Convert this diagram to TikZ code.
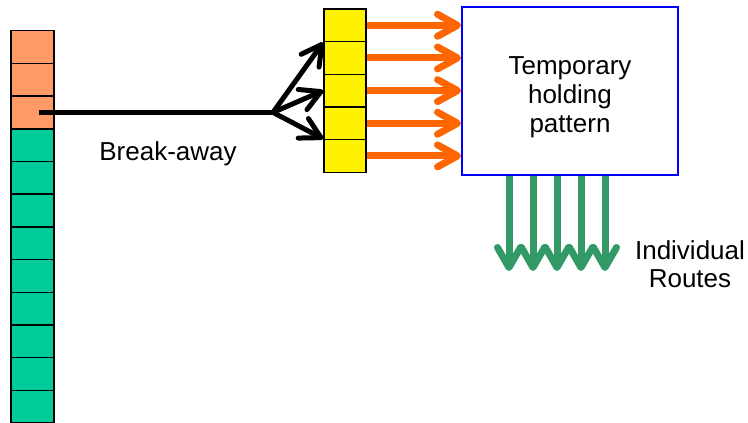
\documentclass[tikz,border=0pt]{standalone}
\usepackage{fontspec}
\setmainfont{Liberation Sans}
\usetikzlibrary{arrows.meta}
\definecolor{cellorange}{HTML}{FF9966}
\definecolor{cellgreen}{HTML}{00CC99}
\definecolor{arroworange}{HTML}{FF6600}
\definecolor{arrowgreen}{HTML}{339966}
\tikzset{
  cell/.style={draw, line width=1.5pt, minimum width=43pt, minimum height=32.7pt, inner sep=0pt},
  bigtext/.style={font=\fontsize{26}{29}\selectfont, align=center, inner sep=0pt},
  blackarrow/.style={line width=5pt, line cap=round, -{Straight Barb[length=20pt, width=22pt, round]}},
  orangearrow/.style={arroworange, line width=7pt, -{Straight Barb[length=20pt, width=22pt, round]}},
  greenarrow/.style={arrowgreen, line width=7pt, -{Straight Barb[length=20pt, width=23pt, round]}}
}
\begin{document}
\begin{tikzpicture}[x=1pt, y=-1pt]
  \useasboundingbox (0,0) rectangle (748,423);
  \clip (0,0) rectangle (748,423);
  \foreach \i in {1,2,3}
    \node[cell, fill=cellorange] (l\i) at (32.5, {47+(\i-1)*32.7}) {};
  \foreach \i in {4,...,13}
    \node[cell, fill=cellgreen] (l\i) at (32.5, {47+(\i-1)*32.7}) {};
  \foreach \i in {1,...,5}
    \node[cell, fill=yellow, minimum width=42pt] (y\i) at (345, {25.3+(\i-1)*32.65}) {};
  \node[draw=blue, line width=2pt, minimum width=216pt, minimum height=168pt, inner sep=0pt] (hold) at (570,91) {};
  \node[bigtext] (holdtext) at ([yshift=-6.5pt]hold.center) {Temporary\\holding\\pattern};

  \coordinate (fork) at ([xshift=240.5pt]l3.center);
  \draw[line width=5pt] ([xshift=6.5pt]l3.center) -- (fork);
  \foreach \t in {y1.south west, y3.west, y5.north west}
    \draw[blackarrow] (fork) -- (\t);
  \node[bigtext, anchor=base] (breaklabel) at (168,160) {Break-away};

  \foreach \i in {1,...,5}
    \draw[orangearrow] (y\i.east) -- (y\i.east -| hold.west);

  \foreach \dx [count=\k] in {48,72,96,120,144} {
    \coordinate (top\k) at ([xshift=\dx pt]hold.south west);
    \coordinate (end\k) at ([xshift=\dx pt, yshift=-95pt]hold.south west);
    \draw[greenarrow] (top\k) -- (end\k);
  }
  \node[bigtext, font=\fontsize{26}{28}\selectfont] (routeslabel) at (690,264.5) {Individual\\Routes};
\end{tikzpicture}
\end{document}
